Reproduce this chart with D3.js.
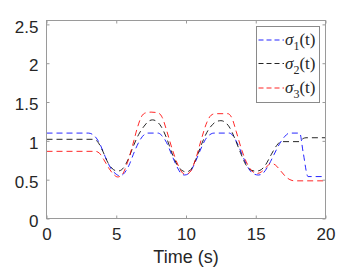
<!DOCTYPE html>
<html><head><meta charset="utf-8">
<script src="https://cdn.jsdelivr.net/npm/d3@7"></script>
<style>html,body{margin:0;padding:0;background:#fff;}svg{display:block;}</style>
</head><body>
<svg id="chart" width="360" height="270"></svg>
<script>
const xTicks = [0, 5, 10, 15, 20];
const yTicks = [0, 0.5, 1, 1.5, 2, 2.5];
const seriesNames = ["σ1(t)", "σ2(t)", "σ3(t)"];
const seriesColors = ["#0000ff", "#000000", "#ff0000"];

const sigma1 = [[0,1.10],[3.0,1.10],[3.4,1.07],[3.8,0.97],[4.2,0.80],[4.6,0.65],[5.0,0.57],[5.25,0.55],[5.5,0.57],[5.9,0.68],[6.3,0.86],[6.7,1.01],[7.0,1.08],[7.2,1.10],[8.0,1.10],[8.2,1.08],[8.6,0.98],[9.0,0.81],[9.4,0.65],[9.7,0.57],[9.9,0.56],[10.2,0.58],[10.6,0.70],[11.0,0.87],[11.4,1.02],[11.8,1.09],[12.0,1.10],[13.1,1.10],[13.3,1.08],[13.7,0.96],[14.1,0.79],[14.5,0.64],[14.9,0.57],[15.2,0.56],[15.5,0.58],[15.9,0.68],[16.3,0.82],[16.7,0.96],[17.1,1.06],[17.4,1.10],[18.15,1.10],[18.4,0.85],[18.75,0.54],[20,0.54]];
const sigma2 = [[0,1.02],[3.3,1.02],[3.6,1.00],[4.0,0.88],[4.4,0.72],[4.8,0.63],[5.1,0.61],[5.4,0.63],[5.8,0.74],[6.2,0.92],[6.6,1.08],[7.0,1.19],[7.3,1.25],[7.6,1.27],[7.9,1.25],[8.2,1.19],[8.6,1.04],[9.0,0.84],[9.4,0.68],[9.8,0.61],[10.0,0.60],[10.3,0.62],[10.7,0.76],[11.1,0.95],[11.5,1.11],[11.9,1.21],[12.2,1.25],[12.5,1.26],[12.8,1.24],[13.1,1.18],[13.5,1.03],[13.9,0.85],[14.3,0.69],[14.7,0.62],[15.0,0.61],[15.3,0.62],[15.7,0.69],[16.1,0.82],[16.5,0.94],[16.8,0.99],[18.1,0.99],[18.4,1.03],[18.6,1.04],[20,1.04]];
const sigma3 = [[0,0.865],[3.5,0.865],[3.8,0.84],[4.1,0.76],[4.5,0.64],[4.8,0.57],[5.1,0.535],[5.4,0.56],[5.8,0.72],[6.2,0.96],[6.5,1.16],[6.8,1.31],[7.1,1.36],[7.5,1.37],[8.0,1.36],[8.3,1.30],[8.6,1.14],[9.0,0.90],[9.4,0.70],[9.8,0.58],[10.0,0.57],[10.3,0.60],[10.7,0.77],[11.1,1.02],[11.5,1.24],[11.8,1.33],[12.1,1.35],[13.0,1.35],[13.3,1.29],[13.6,1.12],[14.0,0.88],[14.4,0.70],[14.8,0.60],[15.1,0.58],[15.4,0.60],[15.8,0.67],[16.1,0.71],[16.4,0.69],[16.8,0.61],[17.2,0.53],[17.6,0.49],[17.8,0.485],[20,0.485]];

const allSeries = [sigma1, sigma2, sigma3];

const svg = d3.select("#chart");
const L = 46.5, R = 325.5, T = 20.5, B = 218.5;
const x = d3.scaleLinear().domain([0, 20]).range([L, R]);
const y = d3.scaleLinear().domain([0, 2.55]).range([B, T]);

const axisColor = "#9a9a9a";
const textColor = "#262626";
const font = "'Liberation Sans', Arial, Helvetica, sans-serif";

svg.append("defs").append("clipPath").attr("id","clip")
  .append("rect").attr("x", L).attr("y", T).attr("width", R-L).attr("height", B-T);

const line = d3.line().x(d => x(d[0])).y(d => y(d[1])).curve(d3.curveMonotoneX);
const g = svg.append("g").attr("clip-path","url(#clip)");
allSeries.forEach((s, i) => {
  g.append("path").datum(s).attr("d", line)
    .attr("fill","none").attr("stroke", seriesColors[i])
    .attr("stroke-width", 1).attr("stroke-dasharray","6,4").attr("opacity",0.85);
});

function styleAxis(sel, showText) {
  sel.select(".domain").remove();
  sel.selectAll(".tick line").attr("stroke", axisColor);
  sel.selectAll(".tick text").attr("fill", textColor).style("font-family", font).style("font-size","17px");
  if (!showText) sel.selectAll(".tick text").remove();
}
svg.append("g").attr("transform", `translate(0,${B})`)
  .call(d3.axisBottom(x).tickValues(xTicks).tickSize(-3).tickPadding(6).tickFormat(d3.format("")))
  .call(s => styleAxis(s, true))
  .call(s => s.selectAll(".tick text").attr("dy","0.71em").attr("y", 9));
svg.append("g").attr("transform", `translate(0,${T})`)
  .call(d3.axisTop(x).tickValues(xTicks).tickSize(-3).tickFormat(""))
  .call(s => styleAxis(s, false));
svg.append("g").attr("transform", `translate(${L},0)`)
  .call(d3.axisLeft(y).tickValues(yTicks).tickSize(-3).tickPadding(8).tickFormat(d3.format("")))
  .call(s => styleAxis(s, true))
  .call(s => s.selectAll(".tick text").attr("dy","0.45em"));
svg.append("g").attr("transform", `translate(${R},0)`)
  .call(d3.axisRight(y).tickValues(yTicks).tickSize(-3).tickFormat(""))
  .call(s => styleAxis(s, false));

svg.append("rect").attr("x", L).attr("y", T).attr("width", R-L).attr("height", B-T)
  .attr("fill","none").attr("stroke", axisColor).attr("stroke-width",1);

svg.append("text").attr("x", (L+R)/2).attr("y", 263).attr("text-anchor","middle")
  .attr("fill", textColor).style("font-family", font).style("font-size","18px").text("Time (s)");

const lg = svg.append("g");
lg.append("rect").attr("x", 256.5).attr("y", 26.5).attr("width", 63).attr("height", 76)
  .attr("fill","#fff").attr("stroke", "#8a8a8a").attr("stroke-width",1);
const rowY = [40, 63.5, 88];
seriesNames.forEach((n, i) => {
  lg.append("line").attr("x1", 258.5).attr("x2", 284).attr("y1", rowY[i]).attr("y2", rowY[i])
    .attr("stroke", seriesColors[i]).attr("stroke-width",1).attr("stroke-dasharray","5,3").attr("opacity",0.85);
  const t = lg.append("text").attr("x", 285).attr("y", rowY[i] + 5)
    .attr("fill", textColor).style("font-family","'Liberation Serif','Times New Roman',serif").style("font-size","17px");
  t.append("tspan").style("font-style","italic").text("σ");
  t.append("tspan").attr("dy", 5).style("font-size","12px").text(n.charAt(1));
  t.append("tspan").attr("dy", -5).text(n.slice(2));
});
</script>
</body></html>
